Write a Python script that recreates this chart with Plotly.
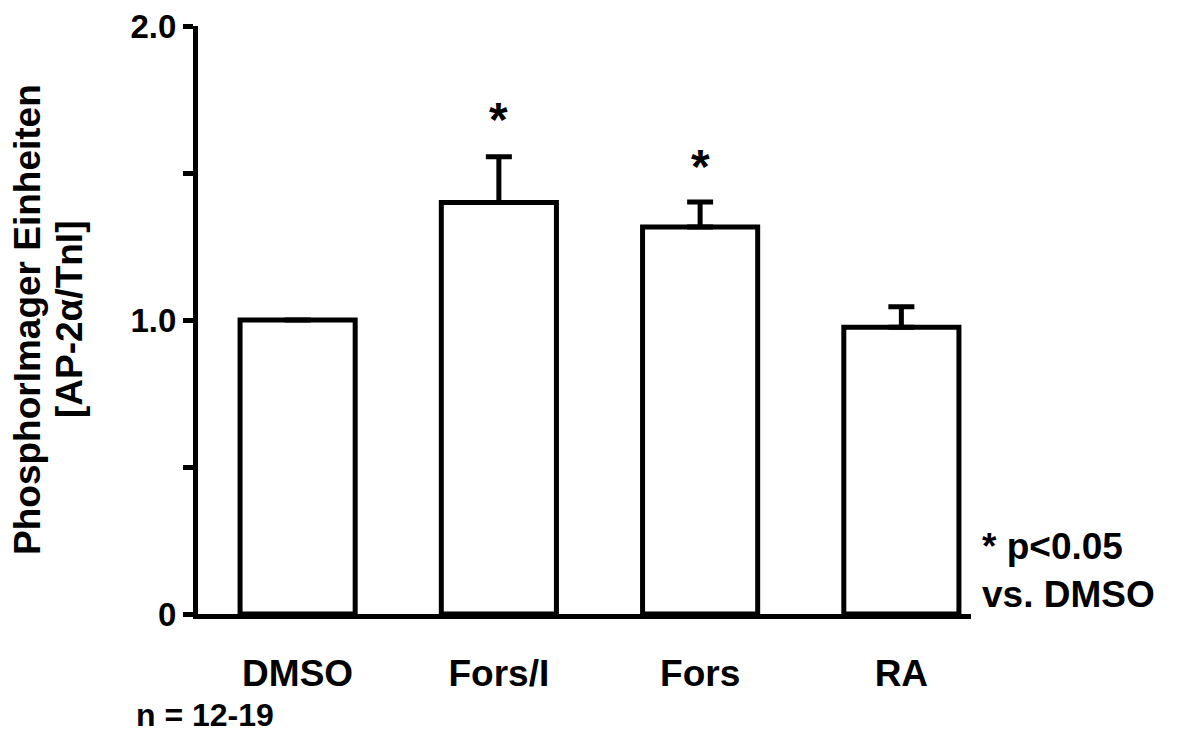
import plotly.graph_objects as go

categories = ["DMSO", "Fors/I", "Fors", "RA"]
means = [1.0, 1.40, 1.316, 0.975]
sem_upper = [0.0, 0.155, 0.085, 0.07]
sig_labels = ["", "*", "*", ""]
sig_y = [0, 1.70, 1.54, 0]
y_tickvals = [0, 0.5, 1.0, 1.5, 2.0]
y_ticktext = ["0", "", "1.0", "", "2.0"]
y_title_lines = ["PhosphorImager Einheiten", "[AP-2α/TnI]"]

W, H = 1177, 742
# page body has an 8px margin; compensate so the plot area lands at x 198..971, y 26..614
L, R, T, B = 190, 214, 18, 136
PW, PH = W - L - R, H - T - B
OFF = 8
FONT = "Arial, Liberation Sans, Helvetica, sans-serif"


def px(xp):
    return (xp - OFF - L) / PW


def py(yp):
    return (T + PH - (yp - OFF)) / PH


fig = go.Figure()
fig.add_trace(go.Bar(
    x=list(range(len(categories))), y=means, width=0.572,
    marker=dict(color="white", line=dict(color="black", width=5)),
    error_y=dict(type="data", symmetric=False, array=sem_upper,
                 arrayminus=[0]*len(means), color="black", thickness=5, width=13),
    showlegend=False, hoverinfo="skip",
))

for i, (s, yy) in enumerate(zip(sig_labels, sig_y)):
    if s:
        fig.add_annotation(x=i, y=yy, xref="x", yref="y", text=s, showarrow=False,
                           font=dict(family=FONT, size=48, color="black", weight="bold"),
                           yanchor="middle", xanchor="center", yshift=-5)

for xc, line in zip([27, 69], y_title_lines):
    fig.add_annotation(x=px(xc), y=py(320), xref="paper", yref="paper",
                       text=line, showarrow=False,
                       textangle=-90, xanchor="center", yanchor="middle",
                       font=dict(family=FONT, size=37, color="black", weight="bold"))

fig.add_annotation(x=px(980), y=py(570), xref="paper", yref="paper",
                   text="* p<0.05<br>vs. DMSO",
                   showarrow=False, xanchor="left", yanchor="middle", align="left",
                   font=dict(family=FONT, size=37, color="black", weight="bold"))

fig.add_annotation(x=px(134), y=py(715), xref="paper", yref="paper", text="n = 12-19",
                   showarrow=False, xanchor="left", yanchor="middle",
                   font=dict(family=FONT, size=32, color="black", weight="bold"))

fig.update_layout(
    width=W, height=H, autosize=False,
    margin=dict(l=L, r=R, t=T, b=B, pad=0, autoexpand=False),
    plot_bgcolor="white", paper_bgcolor="white",
    font=dict(family=FONT, size=32, color="black", weight="bold"),
    xaxis=dict(range=[-0.495, 3.346], tickvals=list(range(len(categories))),
               ticktext=categories, showline=True, linecolor="black", linewidth=5,
               showgrid=False, zeroline=False, ticks="", ticklabelstandoff=23,
               automargin=False,
               tickfont=dict(family=FONT, size=37, color="black", weight="bold")),
    yaxis=dict(range=[0, 2.0], tickvals=y_tickvals, ticktext=y_ticktext,
               showline=True, linecolor="black", linewidth=5, showgrid=False,
               zeroline=False, ticks="outside", ticklen=10, tickwidth=5,
               tickcolor="black", ticklabeloverflow="allow", automargin=False,
               tickfont=dict(family=FONT, size=33, color="black", weight="bold")),
)

fig.write_html("out.html")
